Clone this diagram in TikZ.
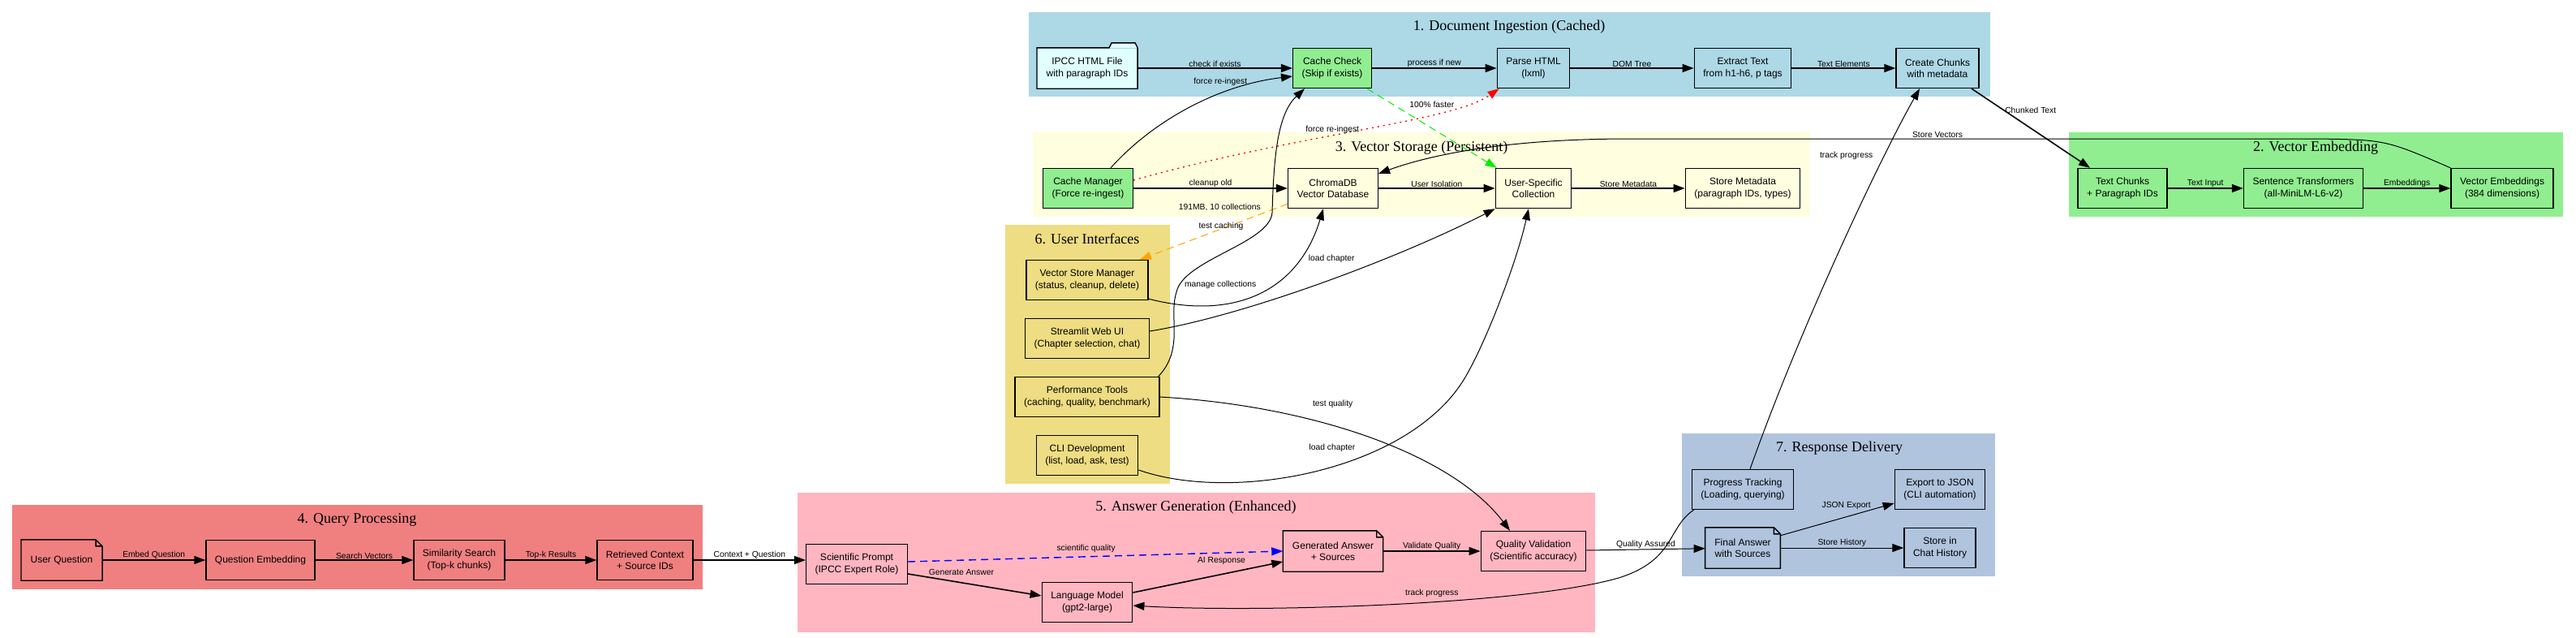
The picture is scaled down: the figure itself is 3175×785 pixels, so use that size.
\documentclass[tikz,border=0pt]{standalone}
\usepackage{fontspec}
\setmainfont{Liberation Sans}
\newfontfamily\clusterfont{Liberation Serif}
\usetikzlibrary{arrows.meta}

\definecolor{ingestblue}{HTML}{ADD8E6}
\definecolor{embedgreen}{HTML}{90EE90}
\definecolor{storeyellow}{HTML}{FFFFE0}
\definecolor{querycoral}{HTML}{F08080}
\definecolor{answerpink}{HTML}{FFB6C1}
\definecolor{uigold}{HTML}{EEDD82}
\definecolor{deliversteel}{HTML}{B0C4DE}
\definecolor{filecyan}{HTML}{E0FFFF}
\definecolor{vgreen}{HTML}{00EE00}
\definecolor{vred}{HTML}{FF0000}
\definecolor{vorange}{HTML}{FFA500}
\definecolor{vblue}{HTML}{0000FF}

\tikzset{
  box/.style={draw, line width=1.4pt, align=center, minimum height=49pt,
    minimum width=81pt, inner xsep=11pt, font=\fontsize{12}{14.3}\selectfont},
  notebox/.style={box, draw=none},
  nodeline/.style={line width=1.4pt},
  ctitle/.style={font=\clusterfont\fontsize{18}{20}\selectfont},
  elab/.style={font=\fontsize{10.3}{12}\selectfont, inner sep=1pt},
  flow/.style={-{Triangle[length=14pt,width=10pt]}, line width=1.6pt},
  link/.style={-{Triangle[length=14pt,width=10pt]}, line width=1pt},
  greenjump/.style={link, draw=vgreen, dash pattern=on 9pt off 6pt},
  reddots/.style={link, draw=vred, line width=1.3pt, dash pattern=on 2pt off 5pt},
  orangedash/.style={link, draw=vorange, dash pattern=on 9pt off 6pt},
  bluedash/.style={link, draw=vblue, line width=1.4pt, dash pattern=on 9pt off 6pt}
}

\begin{document}
\begin{tikzpicture}[x=1pt, y=-1pt]

  \useasboundingbox (0,0) rectangle (3175,785);

  %% Cluster backgrounds and titles.
  \fill[ingestblue] (1268,15) rectangle (2453,119);
  \fill[storeyellow] (1273,163) rectangle (2231,267);
  \fill[embedgreen] (2550,163) rectangle (3159,267);
  \fill[uigold] (1239,277) rectangle (1442,596);
  \fill[querycoral] (15,622) rectangle (866,726);
  \fill[answerpink] (983,607) rectangle (1966,779);
  \fill[deliversteel] (2073,534) rectangle (2459,710);

  \node[ctitle] (t-ingest) at (1860,33) {1. Document Ingestion (Cached)};
  \node[ctitle] (t-embed) at (2854,182) {2. Vector Embedding};
  \node[ctitle] (t-store) at (1752,182) {3. Vector Storage (Persistent)};
  \node[ctitle] (t-query) at (440,640) {4. Query Processing};
  \node[ctitle] (t-answer) at (1474,625) {5. Answer Generation (Enhanced)};
  \node[ctitle] (t-ui) at (1340,294) {6. User Interfaces};
  \node[ctitle] (t-deliver) at (2267,552) {7. Response Delivery};

  %% 1. Document ingestion.
  \node[notebox, fill=filecyan] (ipcc) at (1340,84) {IPCC HTML File\\with paragraph IDs};
  \node[box, fill=embedgreen] (cc) at (1642,84) {Cache Check\\(Skip if exists)};
  \node[box, fill=ingestblue] (parse) at (1890,84) {Parse HTML\\(lxml)};
  \node[box, fill=ingestblue] (extract) at (2148,84) {Extract Text\\from h1-h6, p tags};
  \node[box, fill=ingestblue] (chunks) at (2388,84) {Create Chunks\\with metadata};

  %% 3. Vector storage.
  \node[box, fill=embedgreen] (cm) at (1341,232) {Cache Manager\\(Force re-ingest)};
  \node[box, fill=storeyellow, label={[elab, xshift=-32pt, yshift=7pt]south west:191MB, 10 collections}]
    (chroma) at (1643,232) {ChromaDB\\Vector Database};
  \node[box, fill=storeyellow] (usc) at (1890,232) {User-Specific\\Collection};
  \node[box, fill=storeyellow] (smeta) at (2148,232) {Store Metadata\\(paragraph IDs, types)};

  %% 2. Vector embedding.
  \node[box, fill=embedgreen] (tchunks) at (2616,232) {Text Chunks\\+ Paragraph IDs};
  \node[box, fill=embedgreen] (sent) at (2839,232) {Sentence Transformers\\(all-MiniLM-L6-v2)};
  \node[box, fill=embedgreen] (vemb) at (3084,232) {Vector Embeddings\\(384 dimensions)};

  %% 6. User interfaces.
  \node[box, fill=uigold] (vsm) at (1340,345) {Vector Store Manager\\(status, cleanup, delete)};
  \node[box, fill=uigold] (stui) at (1340,417) {Streamlit Web UI\\(Chapter selection, chat)};
  \node[box, fill=uigold] (perf) at (1340,489) {Performance Tools\\(caching, quality, benchmark)};
  \node[box, fill=uigold] (cli) at (1340,561) {CLI Development\\(list, load, ask, test)};

  %% 4. Query processing.
  \node[notebox, fill=querycoral] (uq) at (76,690) {User Question};
  \node[box, fill=querycoral] (qe) at (321,690) {Question Embedding};
  \node[box, fill=querycoral] (ss) at (566,690) {Similarity Search\\(Top-k chunks)};
  \node[box, fill=querycoral] (rc) at (795,690) {Retrieved Context\\+ Source IDs};

  %% 5. Answer generation.
  \node[box, fill=answerpink] (sp) at (1056,695) {Scientific Prompt\\(IPCC Expert Role)};
  \node[box, fill=answerpink] (lm) at (1340,742) {Language Model\\(gpt2-large)};
  \node[notebox, fill=answerpink] (ga) at (1643,679) {Generated Answer\\+ Sources};
  \node[box, fill=answerpink] (qv) at (1890,679) {Quality Validation\\(Scientific accuracy)};

  %% 7. Response delivery.
  \node[box, fill=deliversteel] (pt) at (2148,603) {Progress Tracking\\(Loading, querying)};
  \node[box, fill=deliversteel] (json) at (2391,603) {Export to JSON\\(CLI automation)};
  \node[notebox, fill=deliversteel] (fa) at (2148,675) {Final Answer\\with Sources};
  \node[box, fill=deliversteel] (hist) at (2391,675) {Store in\\Chat History};

  %% Folder and note outlines.
  \fill[filecyan] ([xshift=-35pt]ipcc.north east) -- ++(3pt,6pt)
    -- ([xshift=-3pt,yshift=6pt]ipcc.north east) -- (ipcc.north east) -- cycle;
  \draw[nodeline] (ipcc.south west) -- (ipcc.north west)
    -- ([xshift=-35pt]ipcc.north east) -- ++(3pt,6pt)
    -- ([xshift=-3pt,yshift=6pt]ipcc.north east) -- (ipcc.north east)
    -- (ipcc.south east) -- cycle;
  \foreach \n in {uq, ga, fa}
    \draw[nodeline] (\n.south west) -- (\n.north west)
      -- ([xshift=-8pt]\n.north east) -- ([yshift=-8pt]\n.north east)
      -- (\n.south east) -- cycle
      ([xshift=-8pt]\n.north east) |- ([yshift=-8pt]\n.north east);

  %% Ingestion flow.
  \draw[flow] (ipcc) -- node[elab, above] {check if exists} (cc);
  \draw[flow] (cc) -- node[elab, above] {process if new} (parse);
  \draw[flow] (parse) -- node[elab, above] {DOM Tree} (extract);
  \draw[flow] (extract) -- node[elab, above] {Text Elements} (chunks);

  %% Embedding flow.
  \draw[flow] ([xshift=42pt]chunks.south) -- node[elab, pos=.27, right] {Chunked Text}
    ([xshift=-40pt]tchunks.north);
  \draw[flow] (tchunks) -- node[elab, above] {Text Input} (sent);
  \draw[flow] (sent) -- node[elab, above] {Embeddings} (vemb);
  \draw[link] (vemb.north west) .. controls (2940,172) .. (2850,171)
    -- node[elab, pos=.55, above] {Store Vectors} (2010,171)
    .. controls (1850,171) and (1760,192) .. ([yshift=-7pt]chroma.north east);

  %% Storage flow.
  \draw[flow] (cm) -- node[elab, above] {cleanup old} (chroma);
  \draw[flow] (chroma) -- node[elab, above] {User Isolation} (usc);
  \draw[flow] (usc) -- node[elab, above] {Store Metadata} (smeta);

  %% Cache shortcuts.
  \draw[link] ([xshift=28pt]cm.north) .. controls (1420,150) and (1500,105)
    .. ([yshift=-10pt]cc.west) node[elab, pos=.72, above=4pt, xshift=-14pt] {force re-ingest};
  \draw[reddots] ([yshift=10pt]cm.east) .. controls (1600,165) and (1790,150)
    .. ([xshift=3pt]parse.south west) node[elab, pos=.43, above] {force re-ingest};
  \draw[greenjump] ([xshift=43pt]cc.south) -- ([xshift=2pt]usc.north west)
    node[elab, pos=.5, yshift=29pt] {100\% faster};
  \draw[orangedash] ([yshift=6pt]chroma.south west) -- ([xshift=65pt]vsm.north)
    node[elab, pos=.5, xshift=9pt, yshift=7pt] {test caching};

  %% User interface links.
  \draw[link] ([yshift=2pt]vsm.south east) .. controls (1520,395) and (1600,360)
    .. ([xshift=-12pt]chroma.south) node[elab, pos=.35, xshift=-11pt, yshift=23pt] {manage collections};
  \draw[link] ([yshift=9pt]stui.east) .. controls (1530,390) and (1720,320)
    .. (usc.south west) node[elab, pos=.5, xshift=15pt, yshift=31pt] {load chapter};
  \draw[link] ([xshift=-2pt]perf.north east) .. controls (1460,430) and (1440,390) .. (1450,360)
    .. controls (1458,320) and (1565,300) .. (1568,262)
    .. controls (1570,190) and (1575,140) .. ([xshift=-34pt]cc.south);
  \draw[link] (perf.east) .. controls (1620,500) and (1790,560)
    .. ([xshift=-29pt]qv.north) node[elab, pos=.35, xshift=24pt, yshift=20pt] {test quality};
  \draw[link] ([yshift=-18pt]cli.east) .. controls (1520,620) and (1740,580) .. (1807,463)
    node[elab, pos=.55, xshift=-5pt, yshift=22pt] {load chapter}
    .. controls (1834,416) and (1870,320) .. ([xshift=-6pt]usc.south);

  %% Query flow.
  \draw[flow] (uq) -- node[elab, above] {Embed Question} (qe);
  \draw[flow] (qe) -- node[elab, above] {Search Vectors} (ss);
  \draw[flow] (ss) -- node[elab, above] {Top-k Results} (rc);
  \draw[flow] (rc.east) -- node[elab, above] {Context + Question} ([yshift=5pt]sp.west);

  %% Answer flow.
  \draw[bluedash] ([yshift=3pt]sp.east) -- node[elab, pos=.475, above=3pt] {scientific quality} (ga.west);
  \draw[flow] ([yshift=-12pt]sp.east) -- node[elab, pos=.4, above=7pt] {Generate Answer}
    ([yshift=8pt]lm.west);
  \draw[flow] ([yshift=12pt]lm.east) -- node[elab, pos=.59, above=10pt] {AI Response}
    ([yshift=-13pt]ga.west);
  \draw[flow] (ga) -- node[elab, above] {Validate Quality} (qv);

  %% Delivery flow.
  \draw[link] (qv) -- node[elab, above] {Quality Assured} (fa);
  \draw[link] ([yshift=-10pt]fa.north east) -- node[elab, pos=.58, above=8pt] {JSON Export}
    ([yshift=-17pt]json.west);
  \draw[link] (fa) -- node[elab, above] {Store History} (hist);
  \draw[link] ([xshift=9pt]pt.north) .. controls (2220,400) and (2320,190)
    .. ([xshift=-22pt]chunks.south) node[elab, pos=.75, left, xshift=-13pt] {track progress};
  \draw[link] ([xshift=3pt]pt.south west) .. controls (2055,650) and (2065,690) .. (1995,712)
    .. controls (1880,745) and (1550,755) .. ([yshift=-4pt]lm.east)
    node[elab, pos=.4, xshift=-14pt, yshift=10pt] {track progress};

\end{tikzpicture}
\end{document}
